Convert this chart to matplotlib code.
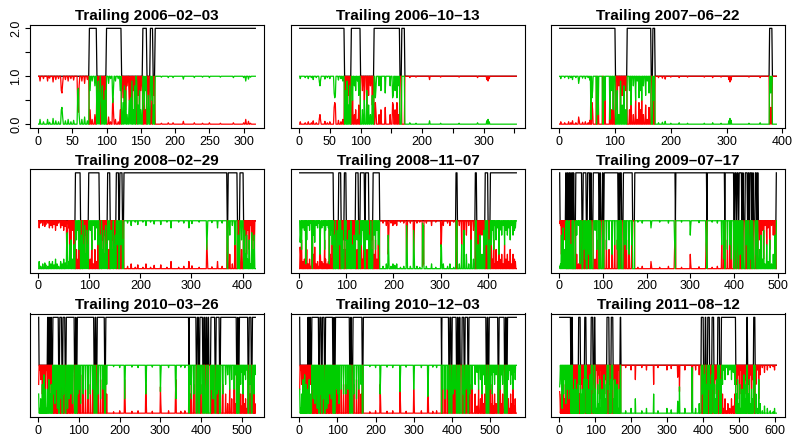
import numpy as np
import matplotlib
matplotlib.use("Agg")
import matplotlib.pyplot as plt

plt.rcParams["font.family"] = ["Liberation Sans", "DejaVu Sans"]

# --- data ------------------------------------------------------------------
titles = ["Trailing 2006–02–03", "Trailing 2006–10–13", "Trailing 2007–06–22",
          "Trailing 2008–02–29", "Trailing 2008–11–07", "Trailing 2009–07–17",
          "Trailing 2010–03–26", "Trailing 2010–12–03", "Trailing 2011–08–12"]

# weekly points in each trailing window
lengths = [317, 353, 389, 425, 461, 497, 533, 569, 605]

# black line: base state, plus runs (first, last) in the other state
base = [1, 1, 1, 1, 1, 2, 2, 2, 1]

runs_1 = [(75, 85), (100, 121), (153, 158), (164, 167), (171, 317)]
runs_2 = [(1, 73), (85, 99), (122, 163), (167, 171)]
runs_3 = [(1, 100), (122, 164), (168, 171), (377, 381)]
runs_4 = [(73, 82), (99, 119), (136, 140), (153, 157), (160, 164), (168, 369),
          (372, 389), (395, 401)]
runs_5 = [(1, 72), (84, 88), (96, 99), (120, 125), (130, 138), (141, 147),
          (157, 170), (333, 335), (374, 376), (395, 400), (406, 461)]
runs_6 = [(2, 14), (17, 18), (21, 22), (25, 26), (28, 29), (31, 32), (34, 37),
          (52, 54), (62, 64), (70, 71), (74, 77), (91, 92), (95, 98), (101, 102),
          (135, 136), (138, 139), (143, 146), (168, 172), (266, 266), (338, 338),
          (379, 379), (400, 401), (405, 406), (410, 411), (418, 419), (422, 425),
          (431, 432), (435, 436), (441, 442), (445, 448), (452, 453), (456, 496)]
runs_7 = [(2, 22), (24, 25), (27, 28), (30, 31), (33, 35), (50, 52), (58, 60),
          (66, 68), (89, 91), (93, 95), (137, 139), (142, 144), (163, 165),
          (370, 370), (388, 390), (394, 396), (404, 406), (409, 411), (414, 416),
          (419, 423), (434, 436), (445, 447), (487, 489), (491, 493), (515, 517),
          (523, 525)]
runs_8 = [(2, 22), (24, 25), (27, 28), (30, 32), (51, 53), (58, 60), (66, 68),
          (88, 90), (92, 94), (132, 134), (137, 140), (165, 167), (373, 373),
          (392, 394), (398, 400), (412, 414), (417, 419), (422, 426), (432, 434),
          (442, 444), (490, 492), (495, 497), (521, 523), (538, 540), (543, 545)]
runs_9 = [(1, 31), (35, 36), (54, 58), (71, 74), (89, 93), (98, 99), (133, 138),
          (145, 149), (170, 171), (396, 401), (407, 408), (414, 418), (426, 430),
          (442, 446), (452, 491), (523, 524), (542, 545)]

# red line (probability of state 1): points that leave the 0/1 level
spikes_1 = [(3, 0.9), (8, 0.95), (14, 0.9), (17, 0.96), (22, 0.88), (26, 0.93),
            (30, 0.95), (34, 0.7), (35, 0.65), (36, 0.85), (40, 0.93), (44, 0.9),
            (48, 0.95), (52, 0.92), (58, 0.3), (59, 0.25), (60, 0.8), (64, 0.9),
            (68, 0.85), (72, 0.93), (76, 0.3), (79, 0.1), (83, 0.2), (87, 0.5),
            (88, 0.1), (90, 0.4), (91, 0.0), (92, 0.6), (94, 0.2), (96, 0.5),
            (98, 0.3), (103, 0.15), (106, 0.05), (109, 0.55), (110, 0.3),
            (113, 0.1), (117, 0.05), (120, 0.3), (124, 0.55), (126, 0.2),
            (128, 0.3), (130, 0.8), (133, 0.5), (135, 0.45), (137, 0.1),
            (139, 0.7), (141, 0.2), (143, 0.0), (144, 0.1), (146, 0.6), (148, 0.3),
            (150, 0.7), (155, 0.7), (157, 0.3), (161, 0.4), (166, 0.5), (169, 0.6),
            (180, 0.02), (190, 0.03), (197, 0.03), (212, 0.06), (228, 0.03),
            (240, 0.02), (250, 0.03), (266, 0.02), (285, 0.03), (300, 0.03),
            (303, 0.1), (307, 0.06), (310, 0.02)]
spikes_2 = [(2, 0.05), (10, 0.03), (15, 0.05), (20, 0.03), (23, 0.07), (28, 0.03),
            (33, 0.12), (34, 0.2), (35, 0.08), (42, 0.06), (46, 0.03), (50, 0.05),
            (57, 0.35), (58, 0.45), (59, 0.4), (64, 0.08), (68, 0.05), (71, 0.1),
            (76, 0.3), (78, 0.1), (80, 0.6), (82, 0.2), (87, 0.5), (90, 0.2),
            (92, 0.3), (95, 0.1), (97, 0.4), (103, 0.7), (106, 0.5), (110, 0.3),
            (113, 0.6), (116, 0.8), (119, 0.4), (124, 0.45), (125, 0.25),
            (130, 0.2), (133, 0.3), (140, 0.35), (148, 0.2), (152, 0.45),
            (153, 0.4), (156, 0.3), (159, 0.45), (161, 0.2), (180, 0.97),
            (190, 0.98), (212, 0.93), (230, 0.98), (260, 0.98), (290, 0.97),
            (305, 0.93), (307, 0.9), (309, 0.95)]
spikes_3 = [(3, 0.05), (10, 0.03), (17, 0.05), (21, 0.03), (24, 0.07), (30, 0.03),
            (35, 0.15), (36, 0.08), (42, 0.04), (47, 0.05), (52, 0.03), (55, 0.08),
            (57, 0.9), (59, 0.45), (60, 0.3), (67, 1.0), (70, 0.8), (78, 1.0),
            (79, 1.0), (82, 0.5), (91, 0.9), (94, 0.3), (97, 0.7),
            (104, 0.3), (107, 0.8), (110, 0.1), (113, 0.6), (116, 0.2), (119, 0.7),
            (126, 0.3), (129, 0.6), (133, 0.2), (137, 0.5), (140, 0.1), (143, 0.45),
            (146, 0.3), (148, 0.5), (151, 0.2), (155, 0.4), (158, 0.1), (161, 0.35),
            (169, 0.5), (178, 0.97), (185, 0.96), (190, 0.94), (200, 0.98),
            (215, 0.97), (230, 0.98), (260, 0.98), (275, 0.97), (290, 0.98),
            (304, 0.93), (306, 0.88), (308, 0.92), (340, 0.98), (360, 0.97),
            (379, 0.35), (380, 0.3)]
spikes_4 = [(2, 0.85), (5, 0.95), (9, 0.9), (13, 0.88), (15, 0.92), (19, 0.95),
            (22, 0.85), (25, 0.9), (28, 0.85), (31, 0.92), (34, 0.8), (37, 0.9),
            (40, 0.95), (44, 0.85), (47, 0.9), (50, 0.8), (53, 0.88), (56, 0.3),
            (57, 0.25), (60, 0.85), (62, 0.5), (64, 0.4), (67, 0.8), (70, 0.5),
            (75, 0.4), (78, 0.2), (80, 0.6), (85, 0.3), (87, 0.0), (89, 0.5),
            (91, 0.1), (93, 0.7), (95, 0.2), (97, 0.5), (102, 0.2), (105, 0.6),
            (108, 0.1), (111, 0.4), (114, 0.15), (117, 0.5), (122, 0.3), (124, 0.0),
            (126, 0.6), (128, 0.2), (130, 0.7), (132, 0.1), (134, 0.5), (138, 0.4),
            (143, 0.2), (145, 0.6), (147, 0.0), (149, 0.5), (151, 0.3), (155, 0.5),
            (162, 0.5), (166, 0.4), (175, 0.05), (182, 0.1), (190, 0.03),
            (195, 0.08), (205, 0.03), (211, 0.1), (220, 0.03), (227, 0.07),
            (240, 0.08), (252, 0.03), (260, 0.15), (275, 0.03), (285, 0.05),
            (295, 0.15), (301, 0.06), (315, 0.03), (330, 0.6), (331, 0.3),
            (340, 0.04), (351, 0.15), (360, 0.05), (375, 0.3), (380, 0.1),
            (385, 0.5), (392, 0.3), (398, 0.4), (404, 0.2), (406, 0.7), (408, 0.3),
            (410, 0.8), (413, 0.4), (416, 0.9), (418, 0.25), (421, 0.6), (423, 0.3)]
spikes_5 = [(2, 0.45), (3, 0.3), (5, 0.6), (8, 0.15), (11, 0.2), (14, 0.9),
            (16, 0.4), (19, 0.1), (22, 0.2), (25, 0.05), (27, 0.8), (28, 1.0),
            (30, 0.3), (33, 0.45), (36, 0.1), (39, 0.15), (42, 0.05), (44, 0.7),
            (45, 0.3), (48, 0.15), (51, 0.1), (54, 0.6), (56, 0.2), (59, 0.1),
            (62, 0.15), (64, 0.9), (66, 0.3), (68, 0.2), (70, 0.5), (75, 0.3),
            (77, 0.0), (79, 0.6), (81, 0.2), (86, 0.5), (91, 0.2), (93, 0.6),
            (98, 0.4), (102, 0.4), (104, 0.9), (106, 0.2), (108, 0.7), (110, 0.0),
            (112, 0.5), (114, 0.8), (116, 0.3), (118, 0.6), (123, 0.4), (128, 0.3),
            (132, 0.5), (135, 0.2), (137, 0.6), (144, 0.4), (150, 0.3), (152, 0.0),
            (154, 0.6), (159, 0.3), (162, 0.6), (165, 0.2), (168, 0.5), (178, 0.95),
            (185, 0.9), (189, 0.3), (190, 0.6), (195, 0.95), (199, 0.9),
            (203, 0.93), (207, 0.9), (215, 0.97), (222, 0.95), (228, 0.1),
            (229, 0.5), (236, 0.95), (243, 0.2), (244, 0.6), (250, 0.95),
            (256, 0.97), (262, 0.05), (263, 0.2), (264, 0.1), (270, 0.95),
            (281, 0.9), (290, 0.97), (301, 0.5), (302, 0.55), (306, 0.9),
            (315, 0.95), (320, 0.9), (328, 0.97), (340, 0.9), (345, 0.5),
            (350, 0.2), (355, 0.7), (360, 0.9), (365, 0.4), (370, 0.8), (380, 0.5),
            (384, 0.3), (388, 0.7), (392, 0.2), (397, 0.5), (403, 0.4), (408, 0.5),
            (410, 0.2), (413, 0.6), (415, 0.1), (418, 0.4), (421, 0.15), (424, 0.7),
            (426, 0.2), (430, 0.3), (433, 0.1), (436, 0.5), (439, 0.2), (442, 0.3),
            (445, 0.15), (448, 0.4), (451, 0.1), (454, 0.3), (457, 0.2), (459, 0.15)]
spikes_6 = [(1, 0.95), (3, 0.9), (5, 0.3), (7, 0.8), (9, 0.15), (11, 0.6),
            (13, 0.9), (15, 0.2), (20, 0.6), (24, 0.4), (27, 0.5), (40, 0.3),
            (44, 0.1), (48, 0.9), (56, 0.6), (60, 0.8), (66, 0.4), (68, 0.7),
            (73, 0.3), (82, 0.2), (86, 0.6), (94, 0.3), (100, 0.5), (108, 0.6),
            (114, 0.4), (121, 0.7), (127, 0.5), (133, 0.6), (141, 0.4), (150, 0.5),
            (154, 0.6), (160, 0.7), (166, 0.5), (180, 0.03), (190, 0.05),
            (210, 0.15), (211, 0.08), (230, 0.03), (250, 0.05), (264, 0.4),
            (265, 0.6), (280, 0.03), (300, 0.3), (301, 0.1), (320, 0.04),
            (336, 0.5), (337, 0.7), (350, 0.03), (362, 0.05), (372, 0.5),
            (377, 0.8), (385, 0.6), (391, 0.5), (394, 0.8), (403, 0.6), (408, 0.4),
            (414, 0.7), (421, 0.6), (428, 0.5), (434, 0.6), (439, 0.8), (444, 0.5),
            (450, 0.7), (455, 0.4), (459, 0.6), (462, 0.3), (465, 0.8), (468, 0.2),
            (471, 0.9), (475, 0.5), (478, 0.85), (482, 0.4), (486, 0.9), (490, 0.7),
            (494, 0.3)]
spikes_7 = [(1, 0.6), (4, 0.9), (6, 0.7), (8, 0.95), (10, 0.4), (12, 0.85),
            (14, 0.2), (16, 0.8), (18, 0.5), (20, 0.9), (23, 0.5), (26, 0.3),
            (29, 0.6), (32, 0.4), (37, 0.6), (41, 0.8), (45, 0.5), (47, 0.9),
            (54, 0.7), (62, 0.6), (70, 0.5), (72, 0.9), (76, 0.7), (80, 0.6),
            (84, 0.8), (97, 0.6), (101, 0.5), (104, 0.8), (110, 0.6), (116, 0.5),
            (122, 0.7), (128, 0.6), (134, 0.5), (141, 0.5), (147, 0.6), (153, 0.7),
            (159, 0.5), (168, 0.4), (185, 0.03), (200, 0.05), (212, 0.7),
            (213, 0.4), (230, 0.04), (245, 0.05), (264, 0.6), (265, 0.3),
            (280, 0.04), (300, 0.55), (301, 0.2), (320, 0.05), (337, 0.45),
            (338, 0.7), (350, 0.04), (360, 0.05), (373, 0.4), (376, 0.7),
            (382, 0.6), (399, 0.6), (412, 0.5), (425, 0.5), (429, 0.7), (439, 0.6),
            (443, 0.5), (453, 0.6), (460, 0.4), (465, 0.2), (470, 0.5), (475, 0.3),
            (481, 0.5), (484, 0.2), (497, 0.4), (500, 0.15), (503, 0.6), (506, 0.2),
            (509, 0.3), (512, 0.1), (520, 0.4), (528, 0.3), (530, 0.6), (532, 0.2)]
spikes_8 = [(1, 0.5), (4, 0.9), (6, 0.6), (8, 0.95), (10, 0.3), (12, 0.8),
            (14, 0.2), (16, 0.85), (18, 0.4), (20, 0.9), (23, 0.5), (26, 0.3),
            (29, 0.6), (34, 0.5), (37, 0.7), (41, 0.8), (45, 0.6), (47, 0.9),
            (55, 0.6), (62, 0.7), (70, 0.6), (72, 0.9), (76, 0.8), (80, 0.6),
            (84, 0.7), (96, 0.5), (101, 0.6), (104, 0.8), (110, 0.5), (116, 0.6),
            (122, 0.6), (128, 0.5), (136, 0.5), (143, 0.6), (150, 0.7), (156, 0.5),
            (162, 0.4), (185, 0.03), (200, 0.05), (212, 0.6), (213, 0.3),
            (230, 0.04), (245, 0.05), (264, 0.55), (265, 0.3), (280, 0.04),
            (300, 0.5), (301, 0.2), (320, 0.05), (337, 0.65), (338, 0.4),
            (350, 0.04), (360, 0.05), (376, 0.5), (382, 0.7), (388, 0.5),
            (403, 0.6), (408, 0.5), (429, 0.6), (437, 0.5), (447, 0.6), (453, 0.5),
            (461, 0.4), (466, 0.15), (470, 0.5), (475, 0.3), (479, 0.6), (483, 0.2),
            (486, 0.4), (500, 0.5), (503, 0.2), (506, 0.6), (509, 0.15), (512, 0.4),
            (516, 0.2), (527, 0.5), (530, 0.2), (533, 0.4), (548, 0.3), (551, 0.1),
            (554, 0.4), (557, 0.2), (560, 0.5), (563, 0.15), (566, 0.3)]
spikes_9 = [(1, 0.45), (2, 0.3), (4, 0.1), (6, 0.4), (8, 0.9), (10, 0.2),
            (12, 0.6), (14, 0.1), (16, 0.3), (18, 0.8), (20, 0.2), (22, 0.5),
            (24, 0.15), (26, 0.7), (28, 0.3), (30, 0.5), (33, 0.8), (38, 0.5),
            (40, 0.9), (42, 0.6), (44, 0.3), (46, 0.8), (48, 0.5), (50, 0.9),
            (52, 0.4), (56, 0.4), (60, 0.6), (62, 0.9), (64, 0.5), (66, 0.8),
            (68, 0.3), (73, 0.5), (76, 0.7), (78, 0.3), (80, 0.9), (82, 0.5),
            (84, 0.8), (86, 0.2), (91, 0.5), (95, 0.6), (101, 0.5), (104, 0.9),
            (107, 0.4), (110, 0.8), (113, 0.3), (116, 0.9), (119, 0.5), (122, 0.8),
            (125, 0.2), (128, 0.7), (131, 0.4), (136, 0.5), (141, 0.6), (143, 0.3),
            (147, 0.5), (152, 0.7), (155, 0.3), (158, 0.8), (161, 0.4), (164, 0.9),
            (167, 0.5), (185, 0.95), (200, 0.9), (212, 0.7), (230, 0.95),
            (243, 0.9), (263, 0.6), (275, 0.95), (300, 0.9), (312, 0.93),
            (330, 0.75), (335, 0.45), (350, 0.9), (370, 0.05), (371, 0.3),
            (380, 0.9), (390, 0.8), (398, 0.6), (403, 0.5), (405, 0.2), (410, 0.4),
            (412, 0.8), (416, 0.5), (420, 0.4), (422, 0.8), (424, 0.2), (428, 0.5),
            (433, 0.4), (436, 0.7), (439, 0.3), (444, 0.5), (448, 0.6), (450, 0.3),
            (455, 0.4), (458, 0.1), (462, 0.3), (466, 0.05), (470, 0.2), (475, 0.1),
            (480, 0.3), (485, 0.15), (489, 0.4), (494, 0.6), (497, 0.3), (500, 0.8),
            (503, 0.4), (506, 0.9), (509, 0.5), (512, 0.85), (515, 0.2), (518, 0.7),
            (521, 0.4), (527, 0.6), (530, 0.3), (533, 0.8), (536, 0.5), (539, 0.7),
            (544, 0.5), (548, 0.6), (552, 0.9), (556, 0.3), (560, 0.8), (566, 0.95),
            (572, 0.85), (580, 0.9), (588, 0.95), (596, 0.97), (600, 0.9)]

runs = [runs_1, runs_2, runs_3, runs_4, runs_5, runs_6, runs_7, runs_8, runs_9]
spikes = [spikes_1, spikes_2, spikes_3, spikes_4, spikes_5, spikes_6, spikes_7,
          spikes_8, spikes_9]

# x axis ticks
xticks = [[0, 50, 100, 150, 200, 250, 300],
          [0, 50, 100, 150, 200, 250, 300, 350],
          [0, 100, 200, 300, 400],
          [0, 100, 200, 300, 400],
          [0, 100, 200, 300, 400],
          [0, 100, 200, 300, 400, 500],
          [0, 100, 200, 300, 400, 500],
          [0, 100, 200, 300, 400, 500],
          [0, 100, 200, 300, 400, 500, 600]]
xlabels_2 = ["0", "50", "100", "", "200", "", "300", ""]

# --- figure -------------------------------------------------------------------
W, H = 793, 436
fig = plt.figure(figsize=(W / 100, H / 100), dpi=100)

col_left = [30, 291, 551]
row_top = [24.5, 169, 313.5]
ax_w, ax_h = 234, 103.5

for k in range(9):
    r, c = divmod(k, 3)
    ax = fig.add_axes([col_left[c] / W, 1 - (row_top[r] + ax_h) / H,
                       ax_w / W, ax_h / H])
    n = lengths[k]
    x = np.arange(1, n + 1)

    state = np.full(n, float(base[k]))
    for a, b in runs[k]:
        state[a - 1:b] = 3 - base[k]
    red = (state == 1).astype(float)
    for i, v in spikes[k]:
        red[i - 1] = v
    green = 1 - red

    ax.plot(x, state, color="black", lw=0.9)
    ax.plot(x, red, color="#FF0000", lw=0.9)
    ax.plot(x, green, color="#00CD00", lw=0.9)

    ax.set_xlim(1 - 0.04 * (n - 1), n + 0.04 * (n - 1))
    ax.set_ylim(-0.08, 2.08)
    ax.set_xticks(xticks[k])
    if k == 1:
        ax.set_xticklabels(xlabels_2)
    if k == 0:
        ax.set_yticks([0, 0.5, 1, 1.5, 2])
        ax.set_yticklabels(["0.0", "", "1.0", "", "2.0"], rotation=90, va="center")
    else:
        ax.set_yticks([])
    ax.tick_params(direction="out", length=3.6, width=0.8, labelsize=9, pad=2)
    for sp in ax.spines.values():
        sp.set_linewidth(0.8)
    ax.set_title(titles[k], fontsize=11, fontweight="bold", pad=3)

fig.savefig("out.png", dpi=100)
